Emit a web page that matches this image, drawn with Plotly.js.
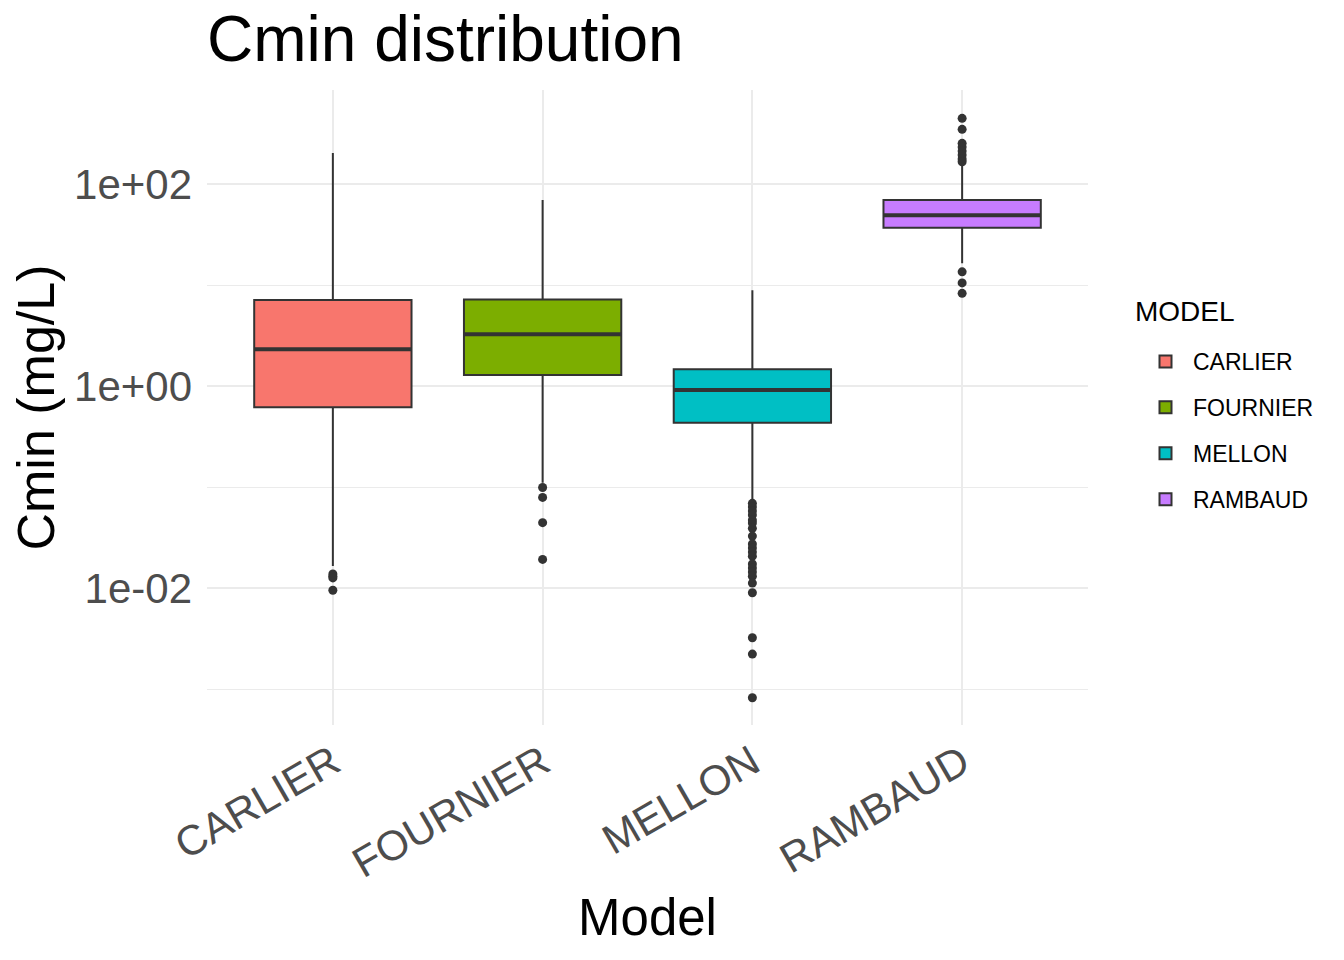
<!DOCTYPE html>
<html>
<head>
<meta charset="utf-8">
<script src="https://cdn.plot.ly/plotly-3.0.1.min.js"></script>
<style>html,body{margin:0;padding:0;background:#fff}#chart{width:1344px;height:960px}</style>
</head>
<body>
<div id="chart"></div>
<script>
const models = ['CARLIER', 'FOURNIER', 'MELLON', 'RAMBAUD'];
const colors = ['#F8766D', '#7CAE00', '#00BFC4', '#C77CFF'];
const q1 = [0.615, 1.285, 0.434, 36.9];
const median = [2.31, 3.25, 0.912, 49];
const q3 = [7.1, 7.2, 1.47, 69.5];
const lowerWhisker = [0.0165, 0.11, 0.0743, 16.4];
const upperWhisker = [203, 69.5, 8.9, 160];
const outliersCarlier = [0.0138, 0.0131, 0.0126, 0.0095];
const outliersFournier = [0.099, 0.079, 0.0444, 0.0192];
const outliersMellon = [0.069, 0.0634, 0.0578, 0.0528, 0.0471, 0.044, 0.039, 0.0327, 0.0273, 0.0249, 0.0227, 0.0207, 0.0173, 0.0158, 0.0144, 0.0131, 0.0112, 0.00898, 0.00322, 0.00222, 0.00082];
const outliersRambaud = [447, 348, 253, 232, 212, 194, 177, 166, 13.5, 10.5, 8.28];
const outliers = [outliersCarlier, outliersFournier, outliersMellon, outliersRambaud];
const yTickVals = [0.01, 1, 100];
const yTickText = ['1e-02', '1e+00', '1e+02'];
const yMinorVals = [0.001, 0.1, 10];

const traces = [];
models.forEach((m, i) => {
  traces.push({
    type: 'box', name: m, x: [m],
    q1: [q1[i]], median: [median[i]], q3: [q3[i]],
    lowerfence: [lowerWhisker[i]], upperfence: [upperWhisker[i]],
    boxpoints: false, whiskerwidth: 0, width: 0.75,
    fillcolor: colors[i], line: {color: '#333333', width: 2},
    legendgroup: m, hoverinfo: 'skip'
  });
  traces.push({
    type: 'scatter', mode: 'markers', x: outliers[i].map(() => m), y: outliers[i],
    marker: {color: '#333333', size: 9}, showlegend: false, legendgroup: m, hoverinfo: 'skip'
  });
});

const shapes = models.map((m, i) => ({
  type: 'line', xref: 'x', yref: 'y',
  x0: i - 0.375, x1: i + 0.375, y0: median[i], y1: median[i],
  line: {color: '#333333', width: 4}
}));

const layout = {
  width: 1344, height: 960,
  margin: {l: 207, r: 256, t: 90, b: 235},
  paper_bgcolor: '#ffffff', plot_bgcolor: '#ffffff',
  font: {family: 'Liberation Sans, Arial, sans-serif', color: '#000000'},
  showlegend: true,
  boxmode: 'overlay',
  title: {text: 'Cmin distribution', x: 207/1344, xref: 'container', xanchor: 'left',
          y: 1 - 39/960, yref: 'container', yanchor: 'middle',
          font: {size: 64, color: '#000000'}},
  xaxis: {
    type: 'category', categoryorder: 'array', categoryarray: models,
    range: [-0.6, 3.6], showgrid: true, gridcolor: '#EBEBEB', gridwidth: 2,
    zeroline: false, showline: false, ticks: '', tickangle: -30, ticklabelstandoff: 4,
    tickfont: {size: 42, color: '#4D4D4D'},
    title: {text: 'Model', font: {size: 51, color: '#000000'}, standoff: 13},
    automargin: false
  },
  yaxis: {
    type: 'log', range: [-3.356, 2.931],
    tickvals: yTickVals, ticktext: yTickText,
    showgrid: true, gridcolor: '#EBEBEB', gridwidth: 2,
    minor: {tickvals: yMinorVals, showgrid: true, gridcolor: '#EBEBEB', gridwidth: 1, ticks: ''},
    zeroline: false, showline: false, ticks: '', ticklabelstandoff: 14,
    tickfont: {size: 42, color: '#4D4D4D'},
    title: {text: 'Cmin (mg/L)', font: {size: 52, color: '#000000'}, standoff: 2},
    automargin: false
  },
  legend: {
    x: (1138-207)/881, xanchor: 'left', y: (725-340)/635, yanchor: 'top',
    font: {size: 23, color: '#000000'}, tracegroupgap: 13, itemwidth: 45,
    bgcolor: 'rgba(0,0,0,0)'
  },
  annotations: [{
    text: 'MODEL', xref: 'paper', yref: 'paper', x: (1133-207)/881, y: (725-311)/635,
    xanchor: 'left', yanchor: 'middle', showarrow: false, font: {size: 28, color: '#000000'}
  }],
  shapes: shapes
};

Plotly.newPlot('chart', traces, layout, {staticPlot: true});
</script>
</body>
</html>
